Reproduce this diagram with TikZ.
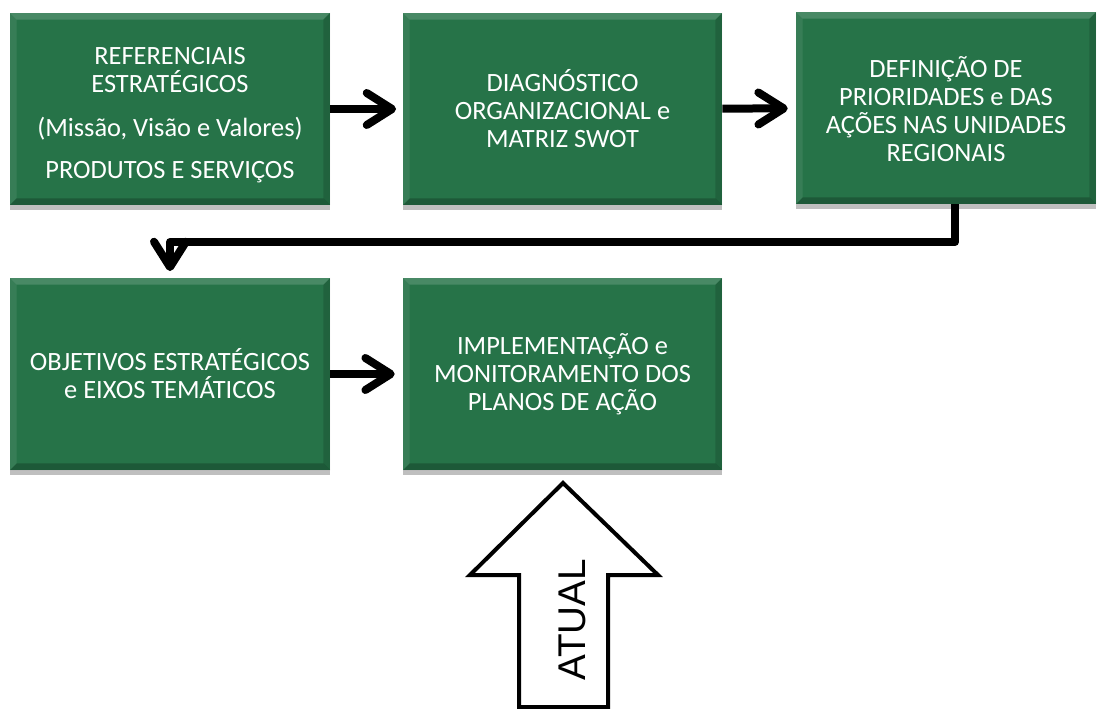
\documentclass[tikz,border=0pt]{standalone}
\usepackage{fontspec}
\setmainfont{Carlito}
\newfontfamily\arialf{Liberation Sans}
\usetikzlibrary{arrows.meta,shadows}
\definecolor{boxgreen}{RGB}{38,115,72}
\begin{document}
\begin{tikzpicture}[x=0.75pt,y=-0.75pt,
  box/.style={fill=boxgreen, text=white, align=center, inner sep=0pt,
    minimum height=144pt, font=\fontsize{19.8}{21}\selectfont,
    drop shadow={shadow xshift=0pt, shadow yshift=-3.5pt, opacity=0.25, fill=black},
    path picture={
      \fill[white,opacity=0.16] (path picture bounding box.north west) -- (path picture bounding box.north east)
        -- ([shift={(-5pt,-5pt)}]path picture bounding box.north east) -- ([shift={(5pt,-5pt)}]path picture bounding box.north west) -- cycle;
      \fill[white,opacity=0.08] (path picture bounding box.north west) -- (path picture bounding box.south west)
        -- ([shift={(5pt,5pt)}]path picture bounding box.south west) -- ([shift={(5pt,-5pt)}]path picture bounding box.north west) -- cycle;
      \fill[black,opacity=0.22] (path picture bounding box.south west) -- (path picture bounding box.south east)
        -- ([shift={(-5pt,5pt)}]path picture bounding box.south east) -- ([shift={(5pt,5pt)}]path picture bounding box.south west) -- cycle;
      \fill[black,opacity=0.14] (path picture bounding box.north east) -- (path picture bounding box.south east)
        -- ([shift={(-5pt,5pt)}]path picture bounding box.south east) -- ([shift={(-5pt,-5pt)}]path picture bounding box.north east) -- cycle;
    }},
  conn/.style={line width=6pt, -{Straight Barb[length=19pt,width=24pt,round]}},
  blockarrow/.style={line width=3pt, draw=black, fill=white, line join=miter}
]
\useasboundingbox (0,0) rectangle (1104,709);

\node[box, minimum width=240pt] (b1) at (170,109)
  {\rule{0pt}{22pt}REFERENCIAIS\\ESTRATÉGICOS\\[12pt](Missão, Visão e Valores)\\[10pt]PRODUTOS E SERVIÇOS};
\node[box, minimum width=239.25pt] (b2) at (562.5,109)
  {DIAGNÓSTICO\\ORGANIZACIONAL e\\MATRIZ SWOT};
\node[box, minimum width=225pt] (b3) at (946,108)
  {\rule{0pt}{18pt}DEFINIÇÃO DE\\PRIORIDADES e DAS\\AÇÕES NAS UNIDADES\\REGIONAIS};
\node[box, minimum width=240pt] (b4) at (170,374)
  {OBJETIVOS ESTRATÉGICOS\\e EIXOS TEMÁTICOS};
\node[box, minimum width=239.25pt] (b5) at (562.5,374)
  {IMPLEMENTAÇÃO e\\MONITORAMENTO DOS\\PLANOS DE AÇÃO};

\draw[conn, shorten >=5pt] (b1) -- (b2);
\draw[conn, shorten >=6pt] (b2) -- (b3);
\draw[conn, shorten >=6pt] (b4) -- (b5);
\coordinate (e1) at (955,242);
\draw[conn, line join=round, shorten >=5pt] (e1 |- b3.south) -- (e1) -| (b4.north);

% ATUAL block arrow
\draw[blockarrow] (563,483) -- (658,575) -- (608,575) -- (608,707) -- (519,707) -- (519,575) -- (470,575) -- cycle;
\node[rotate=90, font=\arialf\fontsize{29}{29}\selectfont, inner sep=0pt] (atual) at (572,620) {ATUAL};
\end{tikzpicture}
\end{document}
